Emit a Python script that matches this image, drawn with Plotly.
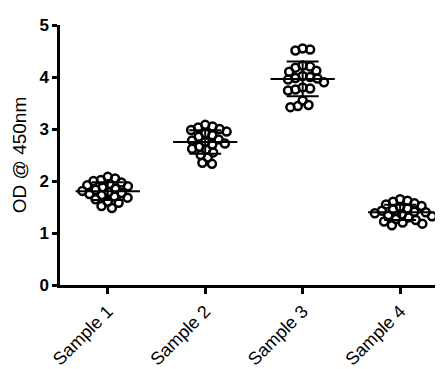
import numpy as np
import plotly.graph_objects as go

categories = ["Sample 1", "Sample 2", "Sample 3", "Sample 4"]
sample1 = [2.08, 2.05, 2.02, 2.0, 1.97, 1.94, 1.92, 1.9, 1.88, 1.85, 1.83, 1.81, 1.79, 1.77, 1.75, 1.73, 1.7, 1.68, 1.65, 1.6, 1.58, 1.52, 1.48]
sample2 = [3.08, 3.05, 3.03, 3.0, 2.98, 2.95, 2.92, 2.88, 2.85, 2.8, 2.78, 2.75, 2.72, 2.7, 2.66, 2.62, 2.6, 2.55, 2.5, 2.45, 2.35, 2.33]
sample3 = [4.55, 4.53, 4.51, 4.22, 4.2, 4.18, 4.12, 4.1, 4.02, 4.0, 3.98, 3.97, 3.95, 3.9, 3.8, 3.78, 3.76, 3.74, 3.55, 3.46, 3.44, 3.42]
sample4 = [1.65, 1.62, 1.6, 1.57, 1.55, 1.52, 1.5, 1.47, 1.45, 1.43, 1.41, 1.4, 1.38, 1.36, 1.34, 1.32, 1.3, 1.27, 1.25, 1.22, 1.2, 1.18, 1.15]
groups = [sample1, sample2, sample3, sample4]
y_ticks = [0, 1, 2, 3, 4, 5]

W, H = 435, 361
ML, MR, MT, MB = 52, 0, 17, 84
x_range = [-0.49, 3.44]
y_range = [0, 5]
px_x = (W - ML - MR) / (x_range[1] - x_range[0])
px_y = (H - MT - MB) / (y_range[1] - y_range[0])
D = 7.5  # collision diameter in px


def beeswarm(vals):
    order = np.argsort(vals)[::-1]
    placed = []
    offs = np.zeros(len(vals))
    for i in order:
        yv = vals[i] * px_y
        cands = [0.0]
        for (px, py) in placed:
            dy = yv - py
            if abs(dy) < D:
                dx = np.sqrt(D * D - dy * dy)
                cands += [px + dx, px - dx]
        cands.sort(key=abs)
        for c in cands:
            ok = all((c - px) ** 2 + (yv - py) ** 2 >= D * D - 1e-6 for (px, py) in placed)
            if ok:
                placed.append((c, yv))
                offs[i] = c / px_x
                break
    return offs


fig = go.Figure()
for gi, vals in enumerate(groups):
    v = np.array(vals)
    offs = beeswarm(v)
    fig.add_trace(go.Scatter(
        x=gi + offs, y=v, mode="markers",
        marker=dict(symbol="circle-open", size=8, color="black", line=dict(width=2.5, color="black")),
        showlegend=False, hoverinfo="y"))
    m, sd = v.mean(), v.std(ddof=1)
    fig.add_trace(go.Scatter(
        x=[gi - 0.33, gi + 0.33], y=[m, m], mode="lines",
        line=dict(color="black", width=2), showlegend=False, hoverinfo="skip"))
    fig.add_trace(go.Scatter(
        x=[gi], y=[m], mode="markers", marker=dict(size=1, color="rgba(0,0,0,0)"),
        error_y=dict(type="constant", value=sd, color="black", thickness=2, width=16),
        showlegend=False, hoverinfo="skip"))

fig.update_layout(
    width=W, height=H,
    margin=dict(l=ML, r=MR, t=MT, b=MB),
    plot_bgcolor="white", paper_bgcolor="white",
    font=dict(family="Liberation Sans, Arial, sans-serif", color="black"),
    xaxis=dict(range=x_range, tickmode="array", tickvals=[0, 1, 2, 3], ticktext=categories,
               tickangle=-45, showgrid=False, zeroline=False, showline=True,
               linecolor="black", linewidth=2.5, ticks="outside", ticklen=6, tickwidth=2.5,
               tickcolor="black", tickfont=dict(size=18)),
    yaxis=dict(range=y_range, tickmode="array", tickvals=y_ticks,
               ticktext=["<b>%d</b>" % t for t in y_ticks],
               showgrid=False, zeroline=False,
               showline=True, linecolor="black", linewidth=2.5, ticks="outside",
               ticklen=5, tickwidth=2.5, tickcolor="black",
               tickfont=dict(size=17),
               title=dict(text="OD @ 450nm", font=dict(size=19), standoff=8)),
)
fig.write_html("out.html")
